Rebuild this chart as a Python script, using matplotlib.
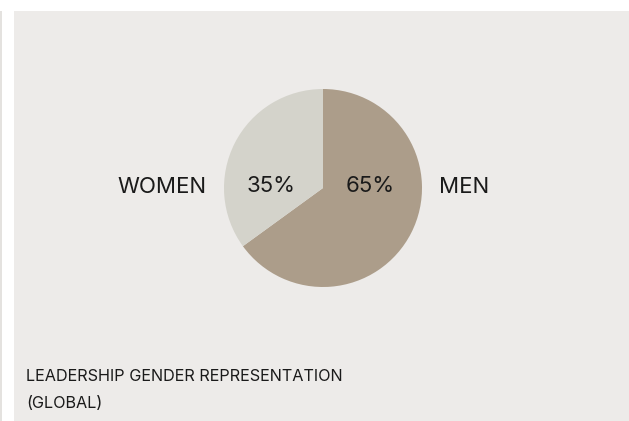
import matplotlib
matplotlib.use("Agg")
import matplotlib.pyplot as plt
from matplotlib.patches import Rectangle

labels = ["MEN", "WOMEN"]
values = [65, 35]
pct_labels = ["65%", "35%"]
colors = ["#AC9D8A", "#D4D3CB"]
title_lines = ["LEADERSHIP GENDER REPRESENTATION", "(GLOBAL)"]

W, H = 629, 421
fig = plt.figure(figsize=(W / 100, H / 100), dpi=100)
fig.patch.set_facecolor("white")
plt.rcParams['font.family'] = ['Inter', 'DejaVu Sans']

# panel background
fig.patches.append(Rectangle((14 / W, 0), (W - 14) / W, (H - 11) / H,
                             transform=fig.transFigure, facecolor="#EDEBE9",
                             edgecolor="none", zorder=-5))
# thin left rule
fig.patches.append(Rectangle((0, 0), 1.5 / W, (H - 11) / H,
                             transform=fig.transFigure, facecolor="#E4E2DF",
                             edgecolor="none", zorder=-5))

cx, cy, r = 323, 188, 99
ax = fig.add_axes([(cx - r) / W, (H - cy - r) / H, 2 * r / W, 2 * r / H])
ax.set_zorder(2)
ax.set_facecolor("none")
ax.pie(values, colors=colors, startangle=90, counterclock=False,
       wedgeprops=dict(linewidth=0))
ax.set_xlim(-1, 1)
ax.set_ylim(-1, 1)
ax.set_aspect("equal")
ax.axis("off")

tc = "#1A1A1A"
fs = 16
ax.text(-1.63, -0.05, labels[1], ha="center", va="baseline", fontsize=fs, color=tc, clip_on=False)
ax.text(1.43, -0.05, labels[0], ha="center", va="baseline", fontsize=fs, color=tc, clip_on=False)
ax.text(-0.52, -0.04, pct_labels[1], ha="center", va="baseline", fontsize=fs, color=tc)
ax.text(0.475, -0.04, pct_labels[0], ha="center", va="baseline", fontsize=fs, color=tc)

fig.text(26 / W, 1 - 381 / H, title_lines[0], ha="left", va="baseline", fontsize=11.7, color=tc, zorder=3)
fig.text(26 / W, 1 - 408 / H, title_lines[1], ha="left", va="baseline", fontsize=11.7, color=tc, zorder=3)

fig.savefig("out.png", dpi=100, facecolor=fig.get_facecolor())
